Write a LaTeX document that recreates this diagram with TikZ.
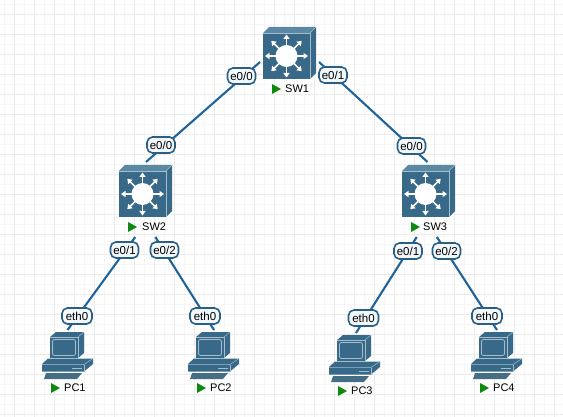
\documentclass[tikz,border=0pt]{standalone}
\usepackage{fontspec}
\setmainfont{Liberation Sans}
\definecolor{icon}{HTML}{386988}
\definecolor{icondark}{HTML}{315F7D}
\definecolor{icontop}{HTML}{5B88A3}
\definecolor{iconlight}{HTML}{A5BDCD}
\definecolor{linkc}{HTML}{1F639A}
\definecolor{tagb}{HTML}{2A5F85}
\definecolor{tagf}{HTML}{F3F8FC}
\definecolor{gmaj}{HTML}{EBEBEB}
\definecolor{gmin}{HTML}{F6F6F6}
\definecolor{runc}{HTML}{0E8A0E}
\tikzset{
 x=1pt,y=-1pt,
 holder/.style={inner sep=0pt,outer sep=0pt,draw=none,fill=none},
 swhold/.style={holder,minimum width=59pt,minimum height=75pt},
 pchold/.style={holder,minimum width=50pt,minimum height=46pt},
 linkline/.style={draw=linkc,line width=2.1pt},
 tagbox/.style={draw=tagb,line width=1.6pt,fill=tagf,rounded corners=5.5pt,inner sep=0pt,minimum height=16pt,text=black,font=\fontsize{11.5}{13}\selectfont},
 tagE/.style={tagbox,minimum width=28pt},
 tagP/.style={tagbox,minimum width=30pt},
 devname/.style={inner sep=0pt,text=black,font=\fontsize{11}{12}\selectfont,anchor=west},
 runmark/.style={fill=runc,draw=none},
 pics/swt/.style={code={
  \fill[icontop] (0,0) -- (6,-6) -- (53,-6) -- (47,0) -- cycle;
  \fill[icon] (47,0) -- (53,-6) -- (53,40) -- (47,46) -- cycle;
  \fill[icon] (0,0) rectangle (47,46);
  \draw[iconlight,line width=.7pt] (0,0) -- (47,0) -- (47,46);
  \draw[iconlight,line width=.7pt] (47,0) -- (53,-6);
  \begin{scope}[shift={(23.5,23)}]
   \foreach \a in {0,45,...,315}{
    \begin{scope}[rotate=\a]
     \draw[white,line width=1.5pt] (10,0) -- (18,0);
     \fill[white] (21.5,0) -- (17,-3.2) -- (17,3.2) -- cycle;
    \end{scope}}
   \fill[white] (0,0) circle (11);
  \end{scope}
  \fill[runmark] (9,51) -- (18,56) -- (9,61) -- cycle;
 }},
 pics/pcx/.style={code={
  \fill[icon] (0,-1) -- (6,-6.5) -- (51,-6.5) -- (51,-1) -- (42,6.5) -- (0,6.5) -- cycle;
  \draw[iconlight,line width=.5pt] (0,-.5) -- (42,-.5) -- (51,-6.5);
  \draw[iconlight,line width=.4pt] (42,-.5) -- (42,6.5);
  \fill[iconlight] (30,2.5) rectangle (40,4.4);
  \fill[icon] (8,-28) -- (14,-33) -- (42,-33) -- (42,-12) -- (36,-7) -- (8,-7) -- cycle;
  \draw[iconlight,line width=.5pt] (8,-28) -- (36,-28) -- (36,-7);
  \draw[iconlight,line width=.5pt] (36,-28) -- (42,-33);
  \draw[iconlight,line width=.8pt,rounded corners=2pt] (10.5,-25.5) rectangle (33.5,-9.5);
  \fill[icon!80!gray] (4,8) -- (40,8) -- (35,14) -- (2,14) -- cycle;
  \fill[runmark] (9,18) -- (18,23) -- (9,28) -- cycle;
 }}
}
\begin{document}
\begin{tikzpicture}
\useasboundingbox (0,0) rectangle (563,417);
\fill[white] (0,0) rectangle (563,417);
\foreach \g in {4.5,24.5,...,564}{\draw[gmin,line width=.8pt] (\g,0) -- (\g,417);}
\foreach \g in {4.5,24.5,...,417}{\draw[gmin,line width=.8pt] (0,\g) -- (563,\g);}
\foreach \g in {14.5,34.5,...,564}{\draw[gmaj,line width=.9pt] (\g,0) -- (\g,417);}
\foreach \g in {14.5,34.5,...,417}{\draw[gmaj,line width=.9pt] (0,\g) -- (563,\g);}
\node[holder,minimum width=59pt,minimum height=58pt] (sw1) at (289.5,53) {};
\node[swhold] (sw2) at (146,199.5) {};
\node[swhold] (sw3) at (427.5,199.5) {};
\node[pchold] (pc1) at (67.5,353) {};
\node[pchold] (pc2) at (214,353) {};
\node[pchold] (pc3) at (356,356) {};
\node[pchold] (pc4) at (497,353) {};
\draw[linkline] (sw1.197) -- (sw2.north);
\draw[linkline] (sw1.-17) -- (sw3.north);
\draw[linkline] (sw2.-106) -- (pc1.north);
\draw[linkline] (sw2.-76.6) -- (pc2.north);
\draw[linkline] (sw3.-106) -- (pc3.north);
\draw[linkline] (sw3.-76.6) -- (pc4.north);
\pic at (263,33) {swt};
\pic at (119,171) {swt};
\pic at (402,171) {swt};
\pic at (42,365) {pcx};
\pic at (188,365) {pcx};
\pic at (329,368) {pcx};
\pic at (471,365) {pcx};
\node[devname] (n1) at (285,89) {SW1};
\node[devname] (n2) at (142,227) {SW2};
\node[devname] (n3) at (423,227) {SW3};
\node[devname] (n4) at (64,388) {PC1};
\node[devname] (n5) at (210,388) {PC2};
\node[devname] (n6) at (351,391) {PC3};
\node[devname] (n7) at (493,388) {PC4};
\node[tagE] (a1) at (241.5,76) {e0/0};
\node[tagE] (a2) at (333,75) {e0/1};
\node[tagE] (a3) at (161,145) {e0/0};
\node[tagE] (a4) at (411.5,146) {e0/0};
\node[tagE] (a5) at (124.5,250) {e0/1};
\node[tagE] (a6) at (164.5,250) {e0/2};
\node[tagE] (a7) at (408,251) {e0/1};
\node[tagE] (a8) at (446.5,251) {e0/2};
\node[tagP] (b1) at (77,316) {eth0};
\node[tagP] (b2) at (205,316) {eth0};
\node[tagP] (b3) at (363.5,318) {eth0};
\node[tagP] (b4) at (487,316) {eth0};
\end{tikzpicture}
\end{document}
